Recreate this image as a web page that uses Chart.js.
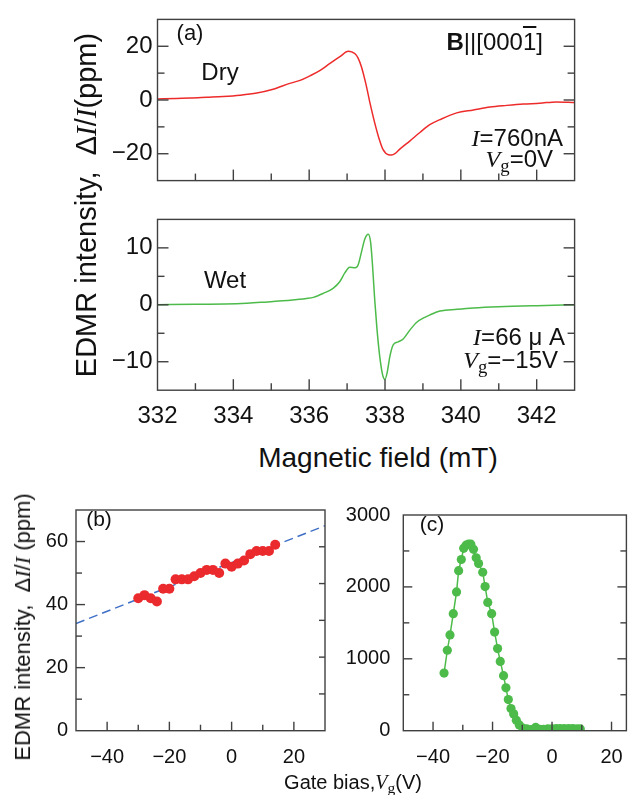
<!DOCTYPE html>
<html>
<head>
<meta charset="utf-8">
<script src="https://cdn.jsdelivr.net/npm/chart.js@4.4.1/dist/chart.umd.min.js"></script>
<style>
  html,body{margin:0;padding:0;background:#fff;}
  #wrap{position:relative;width:631px;height:795px;overflow:hidden;background:#fff;font-family:"Liberation Sans",Arial,sans-serif;color:#111;}
  canvas{position:absolute;}
  .t{position:absolute;white-space:nowrap;line-height:1;transform:translate(-50%,-50%);}
  .r{position:absolute;white-space:nowrap;line-height:1;transform:translateY(-50%);text-align:right;}
  .it{font-family:"Liberation Serif","DejaVu Serif",serif;font-style:italic;}
  .sb{font-family:"Liberation Serif","DejaVu Serif",serif;font-size:0.78em;position:relative;top:0.28em;}
  .rot{position:absolute;white-space:nowrap;line-height:1;transform:translate(-50%,-50%) rotate(-90deg);}
</style>
</head>
<body>
<div id="wrap">
  <canvas id="cDry" width="631" height="200" style="left:0;top:0"></canvas>
  <canvas id="cWet" width="631" height="240" style="left:0;top:200px"></canvas>
  <canvas id="cB" width="335" height="290" style="left:0;top:490px"></canvas>
  <canvas id="cC" width="296" height="290" style="left:335px;top:490px"></canvas>

  <div class="rot" style="left:86px;top:205px;font-size:29px">EDMR intensity,&nbsp; Δ<span class="it">I</span>/<span class="it">I</span>(ppm)</div>
  <div class="t" style="left:378px;top:458px;font-size:28px">Magnetic field (mT)</div>
  <div class="t" style="left:190px;top:33px;font-size:22px">(a)</div>
  <div class="t" style="left:220px;top:72px;font-size:24px">Dry</div>
  <div class="t" style="left:225px;top:280px;font-size:24px">Wet</div>
  <div class="r" style="right:88px;top:42px;font-size:24px"><b>B</b>||[000<span style="text-decoration:overline">1</span>]</div>
  <div class="r" style="right:68px;top:138px;font-size:24px"><span class="it">I</span>=760nA</div>
  <div class="r" style="right:78px;top:159px;font-size:24px"><span class="it">V</span><span class="sb">g</span>=0V</div>
  <div class="r" style="right:66px;top:337px;font-size:24px"><span class="it">I</span>=66 μ A</div>
  <div class="r" style="right:73px;top:360px;font-size:24px"><span class="it">V</span><span class="sb">g</span>=−15V</div>

  <div class="rot" style="left:23px;top:627px;font-size:22px">EDMR intensity,&nbsp; Δ<span class="it">I</span>/<span class="it">I</span> (ppm)</div>
  <div class="t" style="left:99px;top:518px;font-size:21px">(b)</div>
  <div class="t" style="left:432px;top:523px;font-size:21px">(c)</div>
  <div class="t" style="left:353px;top:782px;font-size:20px">Gate bias,<span class="it">V</span><span class="sb">g</span>(V)</div>
</div>
<script>
// ---------- data ----------
const fieldDry = [332.0,332.5,332.86,333.3,333.73,334.18,334.62,335.05,335.49,335.76,336.02,336.29,336.55,336.81,337.03,337.12,337.21,337.29,337.38,337.5,337.6,337.73,337.85,337.95,338.09,338.18,338.26,338.39,338.66,338.92,339.18,339.45,339.89,340.33,340.77,341.21,341.65,342.08,342.52,343.0];
const dryEDMR  = [0.4,0.6,0.7,1.0,1.3,1.8,2.6,4.0,6.2,7.3,9.0,11.0,13.6,16.1,18.1,17.9,17.2,15.6,12.3,5.7,-0.9,-8.6,-14.7,-18.5,-20.4,-20.5,-20.0,-18.3,-15.2,-12.1,-9.2,-7.3,-4.8,-3.7,-2.6,-2.0,-1.5,-1.2,-0.7,-0.9];

const fieldWet = [332.0,333.0,334.09,335.05,335.5,335.93,336.11,336.37,336.63,336.81,336.94,337.07,337.21,337.29,337.38,337.47,337.56,337.62,337.67,337.73,337.79,337.86,337.94,338.0,338.06,338.13,338.22,338.35,338.48,338.66,338.83,339.05,339.18,339.45,339.9,340.33,341.0,342.0,343.0];
const wetEDMR  = [0,0.1,0.17,0.6,0.8,1.1,1.3,2.0,2.9,4.1,5.6,6.6,6.5,7.0,9.3,11.6,12.4,11.0,7.0,0.75,-4.4,-9.0,-12.4,-13.1,-11.8,-9.0,-7.0,-6.5,-6.0,-4.4,-3.1,-2.2,-1.8,-1.1,-0.8,-0.57,-0.35,-0.15,0];

const gateB = [-30,-28,-26,-24,-22,-20,-18,-16,-14,-12,-10,-8,-6,-4,-2,0,2,4,6,8,10,12,14];
const edmrB = [42,43,42,41,45,45,48,48,48,49,50,51,51,50,53,52,53,54,56,57,57,57,59];
const fitGate = [-50, 30];
const fitEdmr = [34, 65];

const gateC = [-36.3,-35.2,-34.3,-33.2,-32.1,-31.4,-30.5,-29.7,-28.9,-28.1,-27.3,-26.4,-25.5,-24.7,-23.3,-22.5,-21.6,-20.3,-19.3,-18.3,-17.4,-16.3,-15.5,-14.7,-13.8,-12.9,-12.0,-11.0,-9.8,-8.5,-7.1,-5.5,-4.1,-2.8,-1.4,0,1.4,2.7,4.1,5.6,7.0,8.4,9.5];
const edmrC = [801,1119,1332,1628,1930,2226,2381,2536,2580,2594,2594,2523,2404,2324,2204,2005,1784,1628,1372,1142,964,765,597,433,309,234,146,80,35,25,15,45,20,20,25,25,30,30,30,30,30,25,25];

const fieldLabels = [332,334,336,338,340,342];
const dryLabels = [-20,0,20];
const wetLabels = [-10,0,10];
const gateLabels = [-40,-20,0,20];
const bLabels = [0,20,40,60];
const cLabels = [0,1000,2000,3000];

// ---------- helpers ----------
const fmt = v => (v < 0 ? '\u2212' + Math.abs(v) : String(v));
const lab = list => v => list.some(l => Math.abs(l - v) < 1e-6) ? fmt(v) : '';
const pts = (xs, ys) => xs.map((x, i) => ({x, y: ys[i]}));
const FONT = '"Liberation Sans", Arial, sans-serif';

const frame = {
  id: 'frame',
  afterDatasetsDraw(chart, args, opts) {
    const {ctx, chartArea: a} = chart;
    ctx.save();
    ctx.strokeStyle = '#404040';
    ctx.lineWidth = 1.4;
    for (const sp of (opts.ticks || [])) {
      const s = chart.scales[sp.axis];
      const start = Math.ceil((s.min + 1e-9) / sp.step) * sp.step;
      for (let v = start; v < s.max - 1e-9; v += sp.step) {
        if (v <= s.min + 1e-9) continue;
        const major = sp.major && Math.abs(v / sp.major - Math.round(v / sp.major)) < 1e-6;
        const len = major ? opts.majorLen : opts.minorLen;
        const p = s.getPixelForValue(v);
        ctx.beginPath();
        if (sp.side === 'bottom') { ctx.moveTo(p, a.bottom); ctx.lineTo(p, a.bottom - len); }
        else if (sp.side === 'left') { ctx.moveTo(a.left, p); ctx.lineTo(a.left + len, p); }
        else if (sp.side === 'right') { ctx.moveTo(a.right, p); ctx.lineTo(a.right - len, p); }
        ctx.stroke();
      }
    }
    ctx.strokeRect(a.left, a.top, a.right - a.left, a.bottom - a.top);
    ctx.restore();
  }
};
Chart.register(frame);

function baseOpts(pad, frameOpts, scales) {
  return {
    responsive: false, animation: false, devicePixelRatio: 1,
    layout: {padding: pad},
    plugins: {legend: {display: false}, tooltip: {enabled: false}, frame: frameOpts},
    scales
  };
}
// y axes: no tick-mark gap; x axes: invisible tick gap (tickLength) instead of large padding
function yAxis(extra) {
  return Object.assign({type: 'linear', grid: {display: false, drawTicks: false}, border: {display: false}}, extra);
}
function xAxis(gap, extra) {
  return Object.assign({type: 'linear', grid: {display: false, drawTicks: true, tickLength: gap}, border: {display: false}}, extra);
}

// ---------- (a) dry ----------
new Chart(document.getElementById('cDry'), {
  type: 'line',
  data: {datasets: [{data: pts(fieldDry, dryEDMR), borderColor: '#ee2b2b', borderWidth: 1.5, pointRadius: 0, cubicInterpolationMode: 'monotone'}]},
  options: baseOpts({top: 9.5, right: 56.4, bottom: 8.5, left: 0},
    {majorLen: 11, minorLen: 7, ticks: [
      {axis: 'x', side: 'bottom', step: 1, major: 2},
      {axis: 'y', side: 'left', step: 10, major: 20},
      {axis: 'y', side: 'right', step: 10, major: 20}]},
    {
      x: xAxis(0, {min: 332, max: 343, ticks: {display: false, stepSize: 1, padding: 0}, afterFit: s => { s.height = 0; }}),
      y: yAxis({min: -30, max: 30, ticks: {stepSize: 10, autoSkip: false, callback: lab(dryLabels), font: {family: FONT, size: 24}, color: '#111', padding: 5}, afterFit: s => { s.width = 157.5; }})
    })
});

// ---------- (a) wet ----------
new Chart(document.getElementById('cWet'), {
  type: 'line',
  data: {datasets: [{data: pts(fieldWet, wetEDMR), borderColor: '#4cbb4a', borderWidth: 1.5, pointRadius: 0, cubicInterpolationMode: 'monotone'}]},
  options: baseOpts({top: 15.2, right: 56.4, bottom: 9.8, left: 0},
    {majorLen: 11, minorLen: 7, ticks: [
      {axis: 'x', side: 'bottom', step: 1, major: 2},
      {axis: 'y', side: 'left', step: 5, major: 10},
      {axis: 'y', side: 'right', step: 5, major: 10}]},
    {
      x: xAxis(10, {min: 332, max: 343, ticks: {stepSize: 1, autoSkip: false, maxRotation: 0, callback: lab(fieldLabels), font: {family: FONT, size: 24}, color: '#111', padding: 2}, afterFit: s => { s.height = 40; }}),
      y: yAxis({min: -15, max: 15, ticks: {stepSize: 5, autoSkip: false, callback: lab(wetLabels), font: {family: FONT, size: 24}, color: '#111', padding: 5}, afterFit: s => { s.width = 157.5; }})
    })
});

// ---------- (b) ----------
new Chart(document.getElementById('cB'), {
  type: 'scatter',
  data: {datasets: [
    {data: pts(gateB, edmrB), backgroundColor: '#ea2a2c', borderWidth: 0, pointRadius: 5, order: 0},
    {type: 'line', data: pts(fitGate, fitEdmr), borderColor: '#3f6fc6', borderWidth: 1.5, borderDash: [9, 5], pointRadius: 0, order: 1}
  ]},
  options: baseOpts({top: 13, right: 10, bottom: 14.3, left: 0},
    {majorLen: 9, minorLen: 6, ticks: [
      {axis: 'x', side: 'bottom', step: 10, major: 20},
      {axis: 'y', side: 'left', step: 10, major: 20},
      {axis: 'y', side: 'right', step: 70 / 6, major: null}]},
    {
      x: xAxis(9, {min: -50, max: 30, ticks: {stepSize: 10, autoSkip: false, maxRotation: 0, callback: lab(gateLabels), font: {family: FONT, size: 20}, color: '#111', padding: 6}, afterFit: s => { s.height = 35; }}),
      y: yAxis({min: 0, max: 70, ticks: {stepSize: 10, autoSkip: false, callback: lab(bLabels), font: {family: FONT, size: 20}, color: '#111', padding: 8}, afterFit: s => { s.width = 76; }})
    })
});

// ---------- (c) ----------
new Chart(document.getElementById('cC'), {
  type: 'line',
  data: {datasets: [{data: pts(gateC, edmrC), borderColor: '#4cbb4a', borderWidth: 1.5, backgroundColor: '#4cbb4a', pointBackgroundColor: '#4cbb4a', pointBorderWidth: 0, pointRadius: 4.6}]},
  options: baseOpts({top: 13, right: 1.5, bottom: 14.3, left: 0},
    {majorLen: 9, minorLen: 6, ticks: [
      {axis: 'x', side: 'bottom', step: 10, major: 20},
      {axis: 'y', side: 'left', step: 500, major: 1000},
      {axis: 'y', side: 'right', step: 500, major: 1000}]},
    {
      x: xAxis(9, {min: -50, max: 25, ticks: {stepSize: 10, autoSkip: false, maxRotation: 0, includeBounds: false, callback: lab(gateLabels), font: {family: FONT, size: 20}, color: '#111', padding: 6}, afterFit: s => { s.height = 35; }}),
      y: yAxis({min: 0, max: 3000, ticks: {stepSize: 500, autoSkip: false, callback: lab(cLabels), font: {family: FONT, size: 20}, color: '#111', padding: 13}, afterFit: s => { s.width = 68.3; }})
    })
});
</script>
</body>
</html>
